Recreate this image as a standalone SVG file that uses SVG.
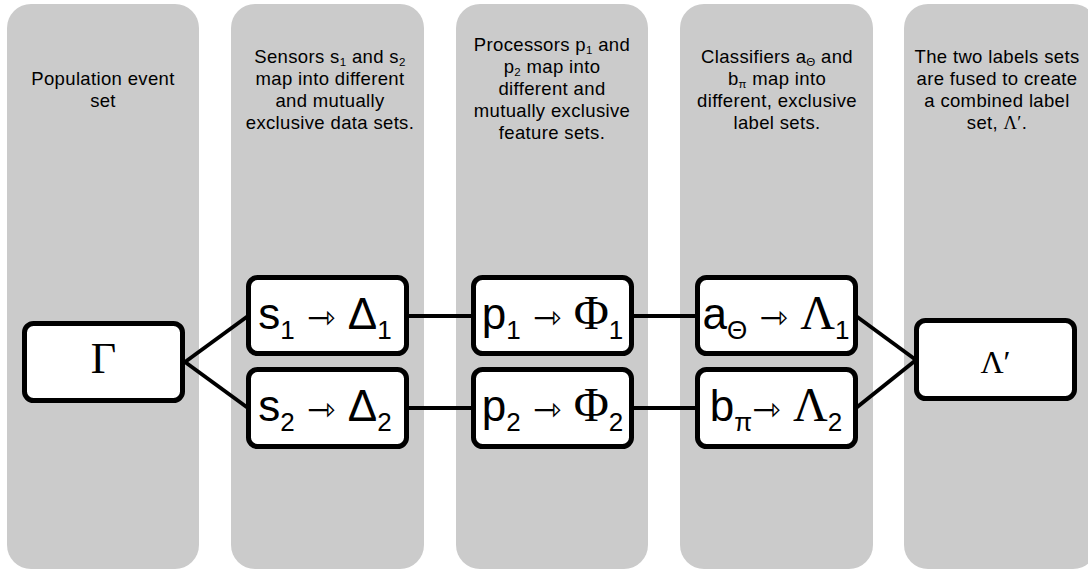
<svg xmlns="http://www.w3.org/2000/svg" width="1088" height="569" viewBox="0 0 1088 569">
<style>
.col{fill:#cbcbcb}
.hd{font-family:"Liberation Sans",Arial,sans-serif;font-size:18.5px;letter-spacing:0.35px;fill:#000;text-anchor:middle}
.hs{font-size:11.5px}
.box{fill:#fff;stroke:#000;stroke-width:5}
.nt{font-family:"Liberation Sans",Arial,sans-serif;font-size:44px;fill:#000;text-anchor:middle}
.ns{font-size:26px}
.sf{font-family:"Liberation Serif","Times New Roman",serif}
.gk{font-size:48px}
.arr{font-family:"DejaVu Sans",sans-serif;font-size:34px}
.conn line{stroke:#000;stroke-width:4;stroke-linecap:butt}
</style>
<g id="columns">
<rect id="col1" class="col" x="7" y="4" width="192" height="565" rx="24"/>
<rect id="col2" class="col" x="231" y="4" width="193" height="565" rx="24"/>
<rect id="col3" class="col" x="456" y="4" width="192" height="565" rx="24"/>
<rect id="col4" class="col" x="680" y="4" width="193" height="565" rx="24"/>
<rect id="col5" class="col" x="904" y="4" width="193" height="565" rx="24"/>
</g>
<g id="headers">
<text class="hd" x="103" y="85">Population event</text>
<text class="hd" x="103" y="107">set</text>
<text class="hd" x="330" y="63">Sensors s<tspan class="hs" dy="3">1</tspan><tspan dy="-3"> and s</tspan><tspan class="hs" dy="3">2</tspan></text>
<text class="hd" x="330" y="85">map into different</text>
<text class="hd" x="330" y="107">and mutually</text>
<text class="hd" x="330" y="129">exclusive data sets.</text>
<text class="hd" x="552" y="51">Processors p<tspan class="hs" dy="3">1</tspan><tspan dy="-3"> and</tspan></text>
<text class="hd" x="552" y="73">p<tspan class="hs" dy="3">2</tspan><tspan dy="-3"> map into</tspan></text>
<text class="hd" x="552" y="95">different and</text>
<text class="hd" x="552" y="117">mutually exclusive</text>
<text class="hd" x="552" y="139">feature sets.</text>
<text class="hd" x="777" y="63">Classifiers a<tspan class="hs" dy="3">Θ</tspan><tspan dy="-3"> and</tspan></text>
<text class="hd" x="777" y="85">b<tspan class="hs" dy="3">π</tspan><tspan dy="-3"> map into</tspan></text>
<text class="hd" x="777" y="107">different, exclusive</text>
<text class="hd" x="777" y="129">label sets.</text>
<text class="hd" x="997" y="63">The two labels sets</text>
<text class="hd" x="997" y="85">are fused to create</text>
<text class="hd" x="997" y="107">a combined label</text>
<text class="hd" x="997" y="129">set, <tspan class="sf">Λ′</tspan>.</text>
</g>
<g id="connectors" class="conn">
<line x1="185" y1="362" x2="248" y2="316"/>
<line x1="185" y1="362" x2="248" y2="408"/>
<line x1="406" y1="316" x2="474" y2="316"/>
<line x1="406" y1="408" x2="474" y2="408"/>
<line x1="631" y1="316" x2="698" y2="316"/>
<line x1="631" y1="408" x2="698" y2="408"/>
<line x1="856" y1="316" x2="916" y2="360"/>
<line x1="856" y1="408" x2="916" y2="360"/>
</g>
<g id="node-gamma">
<rect class="box" x="24.5" y="323.5" width="158" height="77" rx="9"/>
<text class="nt sf" x="103.5" y="373">Γ</text>
</g>
<g id="node-s1">
<rect class="box" x="248.5" y="277.5" width="158" height="76" rx="9"/>
<text class="nt" x="325" y="329">s<tspan class="ns" dy="10">1</tspan><tspan dy="-10"> </tspan><tspan class="arr">⇾</tspan> Δ<tspan class="ns" dy="10">1</tspan></text>
</g>
<g id="node-s2">
<rect class="box" x="248.5" y="369.5" width="158" height="77" rx="9"/>
<text class="nt" x="325" y="421">s<tspan class="ns" dy="10">2</tspan><tspan dy="-10"> </tspan><tspan class="arr">⇾</tspan> Δ<tspan class="ns" dy="10">2</tspan></text>
</g>
<g id="node-p1">
<rect class="box" x="473.5" y="277.5" width="158" height="76" rx="9"/>
<text class="nt" x="552.5" y="329">p<tspan class="ns" dy="10">1</tspan><tspan dy="-10"> </tspan><tspan class="arr">⇾</tspan> <tspan class="sf gk">Φ</tspan><tspan class="ns" dy="10">1</tspan></text>
</g>
<g id="node-p2">
<rect class="box" x="473.5" y="369.5" width="158" height="77" rx="9"/>
<text class="nt" x="552.5" y="421">p<tspan class="ns" dy="10">2</tspan><tspan dy="-10"> </tspan><tspan class="arr">⇾</tspan> <tspan class="sf gk">Φ</tspan><tspan class="ns" dy="10">2</tspan></text>
</g>
<g id="node-a">
<rect class="box" x="697.5" y="277.5" width="158" height="76" rx="9"/>
<text class="nt" x="776" y="329">a<tspan class="ns" dy="10">Θ</tspan><tspan dy="-10"> </tspan><tspan class="arr">⇾</tspan> <tspan class="sf gk">Λ</tspan><tspan class="ns" dy="10">1</tspan></text>
</g>
<g id="node-b">
<rect class="box" x="697.5" y="369.5" width="158" height="77" rx="9"/>
<text class="nt" x="776" y="421">b<tspan class="ns" dy="10">π</tspan><tspan class="arr" dy="-10">⇾</tspan> <tspan class="sf gk">Λ</tspan><tspan class="ns" dy="10">2</tspan></text>
</g>
<g id="node-lambda">
<rect class="box" x="916.5" y="320.5" width="158" height="78" rx="9"/>
<text class="nt sf" x="995.5" y="373" style="font-size:32px">Λ′</text>
</g>
</svg>
